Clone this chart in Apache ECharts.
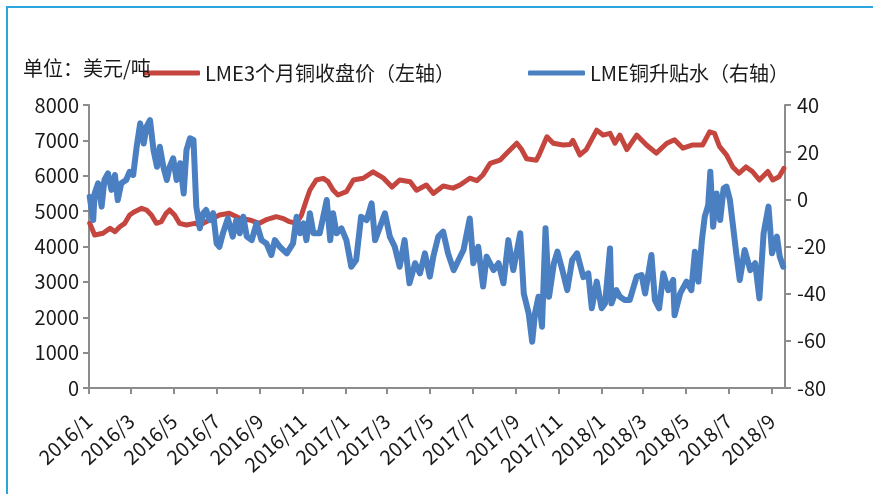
<!DOCTYPE html>
<html>
<head>
<meta charset="utf-8">
<script src="https://cdn.jsdelivr.net/npm/echarts@6/dist/echarts.min.js"></script>
<style>
  html, body { margin: 0; padding: 0; background: #fff; }
  #chart { width: 873px; height: 494px; }
</style>
</head>
<body>
<div id="chart"></div>
<script>
// LME 3个月铜收盘价（美元/吨）
const priceDates = [
  '2016-01-02','2016-01-09','2016-01-21','2016-01-31','2016-02-07','2016-02-14','2016-02-21','2016-02-28',
  '2016-03-06','2016-03-16','2016-03-23','2016-03-30','2016-04-06','2016-04-13','2016-04-20','2016-04-25',
  '2016-05-02','2016-05-09','2016-05-19','2016-05-31','2016-06-07','2016-06-16','2016-07-05','2016-07-19',
  '2016-08-03','2016-08-17','2016-08-31','2016-09-09','2016-09-24','2016-10-03','2016-10-13','2016-10-23',
  '2016-10-30','2016-11-06','2016-11-11','2016-11-20','2016-11-30','2016-12-07','2016-12-14','2016-12-21',
  '2017-01-02','2017-01-12','2017-01-26','2017-02-09','2017-02-24','2017-03-08','2017-03-19','2017-04-03',
  '2017-04-12','2017-04-26','2017-05-06','2017-05-20','2017-06-03','2017-06-13','2017-06-27','2017-07-07',
  '2017-07-16','2017-07-26','2017-08-09','2017-08-19','2017-09-02','2017-09-09','2017-09-16','2017-09-30',
  '2017-10-05','2017-10-15','2017-10-24','2017-11-07','2017-11-17','2017-11-21','2017-12-01','2017-12-10',
  '2017-12-25','2018-01-03','2018-01-13','2018-01-20','2018-01-27','2018-02-06','2018-02-20','2018-03-06',
  '2018-03-20','2018-04-04','2018-04-15','2018-04-27','2018-05-11','2018-05-25','2018-06-04','2018-06-11',
  '2018-06-18','2018-06-28','2018-07-07','2018-07-16','2018-07-26','2018-08-04','2018-08-14','2018-08-26',
  '2018-09-02','2018-09-11','2018-09-18'
];
const priceValues = [
  4655, 4325, 4373, 4514, 4420, 4560, 4655, 4890,
  4985, 5080, 5032, 4890, 4655, 4702, 4938, 5032,
  4890, 4655, 4608, 4655, 4608, 4702, 4890, 4938,
  4797, 4750, 4655, 4750, 4843, 4797, 4702, 4655,
  4890, 5315, 5597, 5880, 5927, 5833, 5597, 5456,
  5550, 5880, 5930, 6110, 5930, 5680, 5880, 5830,
  5590, 5740, 5500, 5710, 5650, 5740, 5930, 5860,
  6030, 6350, 6440, 6640, 6920, 6740, 6480, 6440,
  6640, 7100, 6920, 6870, 6880, 7000, 6590, 6740,
  7290, 7150, 7200, 6920, 7150, 6740, 7150, 6870,
  6640, 6920, 7020, 6780, 6870, 6870, 7240, 7200,
  6830, 6590, 6250, 6070, 6250, 6120, 5880, 6120,
  5880, 5970, 6210
];

// LME铜升贴水（美元/吨）
const spreadDates = [
  '2016-01-02','2016-01-07','2016-01-09','2016-01-14','2016-01-19','2016-01-23','2016-01-28','2016-02-02',
  '2016-02-07','2016-02-11','2016-02-16','2016-02-23','2016-02-28','2016-03-04','2016-03-09','2016-03-14',
  '2016-03-19','2016-03-23','2016-03-28','2016-04-02','2016-04-07','2016-04-11','2016-04-16','2016-04-21',
  '2016-04-25','2016-04-30','2016-05-05','2016-05-10','2016-05-15','2016-05-19','2016-05-24','2016-05-29',
  '2016-06-02','2016-06-07','2016-06-12','2016-06-16','2016-06-21','2016-06-26','2016-07-01','2016-07-05',
  '2016-07-10','2016-07-17','2016-07-24','2016-07-29','2016-08-03','2016-08-08','2016-08-13','2016-08-20',
  '2016-08-27','2016-09-03','2016-09-10','2016-09-17','2016-09-22','2016-09-29','2016-10-09','2016-10-18',
  '2016-10-23','2016-10-28','2016-11-02','2016-11-06','2016-11-11','2016-11-16','2016-11-25','2016-11-30',
  '2016-12-05','2016-12-10','2016-12-14','2016-12-19','2016-12-26','2017-01-02','2017-01-09','2017-01-16',
  '2017-01-23','2017-01-31','2017-02-07','2017-02-12','2017-02-19','2017-02-26','2017-03-05','2017-03-12',
  '2017-03-19','2017-03-26','2017-04-02','2017-04-10','2017-04-17','2017-04-24','2017-05-01','2017-05-06',
  '2017-05-13','2017-05-20','2017-05-27','2017-06-04','2017-06-11','2017-06-18','2017-06-27','2017-07-02',
  '2017-07-09','2017-07-16','2017-07-21','2017-07-31','2017-08-07','2017-08-14','2017-08-21','2017-08-28',
  '2017-09-07','2017-09-12','2017-09-19','2017-09-24','2017-09-28','2017-10-03','2017-10-08','2017-10-13',
  '2017-10-18','2017-10-25','2017-10-30','2017-11-06','2017-11-13','2017-11-20','2017-11-27','2017-12-06',
  '2017-12-13','2017-12-18','2017-12-25','2018-01-01','2018-01-06','2018-01-13','2018-01-15','2018-01-22',
  '2018-01-27','2018-02-03','2018-02-10','2018-02-20','2018-02-27','2018-03-04','2018-03-13','2018-03-18',
  '2018-03-24','2018-03-30','2018-04-06','2018-04-13','2018-04-15','2018-04-23','2018-05-02','2018-05-09',
  '2018-05-14','2018-05-19','2018-05-24','2018-05-28','2018-06-02','2018-06-05','2018-06-09','2018-06-14',
  '2018-06-19','2018-06-24','2018-06-28','2018-07-03','2018-07-12','2018-07-17','2018-07-24','2018-08-01',
  '2018-08-08','2018-08-14','2018-08-20','2018-08-27','2018-09-01','2018-09-08','2018-09-12','2018-09-17'
];
const spreadValues = [
  1.1, -8.8, 2.5, 6.8, -3.1, 8.2, 11.0, 4.0,
  10.3, -0.3, 6.8, 8.2, 11.7, 10.3, 22.3, 32.2,
  23.7, 30.8, 33.6, 20.9, 13.8, 22.3, 13.8, 8.2,
  13.8, 17.4, 8.2, 15.3, 2.5, 20.9, 25.9, 25.2,
  -3.1, -12.3, -5.9, -4.5, -8.8, -5.9, -18.7, -20.1,
  -14.4, -8.1, -15.8, -8.8, -14.4, -7.4, -15.8, -17.3,
  -10.2, -17.3, -18.7, -23.6, -17.3, -20.1, -22.9, -18.7,
  -7.4, -14.4, -10.2, -17.3, -5.9, -14.4, -14.4, -7.4,
  -0.3, -17.3, -5.9, -14.4, -12.3, -17.3, -28.6, -25.7,
  -7.4, -8.8, -1.7, -17.3, -11.6, -5.9, -15.8, -20.1,
  -28.6, -17.3, -35.6, -27.1, -31.4, -22.9, -32.8, -24.3,
  -15.8, -13.7, -22.9, -30.0, -25.7, -21.5, -8.1, -27.1,
  -20.1, -37.0, -24.3, -30.0, -27.1, -35.6, -17.3, -30.0,
  -14.4, -39.9, -48.4, -60.4, -48.4, -41.3, -54.0, -12.3,
  -41.3, -27.1, -22.2, -30.0, -38.5, -25.7, -22.9, -33.0,
  -31.4, -46.2, -34.9, -46.2, -44.1, -20.8, -44.1, -38.5,
  -41.3, -42.7, -42.7, -32.8, -32.1, -39.9, -23.6, -42.7,
  -46.2, -31.4, -38.5, -34.2, -49.1, -39.9, -34.9, -38.5,
  -22.2, -34.9, -17.3, -7.4, -2.4, 11.7, -11.6, 2.5,
  -8.8, 4.7, 5.4, -0.3, -22.9, -34.2, -21.5, -30.0,
  -27.1, -42.0, -14.4, -3.1, -22.9, -15.8, -24.3, -28.6
];

const tickLabels = ['2016/1','2016/3','2016/5','2016/7','2016/9','2016/11','2017/1','2017/3','2017/5',
  '2017/7','2017/9','2017/11','2018/1','2018/3','2018/5','2018/7','2018/9'];

const seriesNames = ['LME3个月铜收盘价（左轴）', 'LME铜升贴水（右轴）'];
const FONT = '"Noto Sans CJK SC", "Noto Sans", sans-serif';

// the x axis is a value axis in UTC milliseconds, ticks placed on the 1st of every other month
const tickTimes = tickLabels.map(s => {
  const [y, m] = s.split('/').map(Number);
  return Date.UTC(y, m - 1, 1);
});
const pricePairs = priceDates.map((d, i) => [Date.parse(d), priceValues[i]]);
const spreadPairs = spreadDates.map((d, i) => [Date.parse(d), spreadValues[i]]);

const axisGray = '#8c8c8c';

const chart = echarts.init(document.getElementById('chart'));
chart.setOption({
  animation: false,
  graphic: [{
    type: 'polyline',
    shape: { points: [[7, 494], [7, 7], [873, 7]] },
    style: { stroke: '#2aa6de', lineWidth: 2, fill: null }
  }],
  title: {
    text: '单位：美元/吨',
    left: 18,
    top: 53,
    textStyle: { fontFamily: FONT, fontSize: 20, fontWeight: 'normal', color: '#1a1a1a' }
  },
  legend: [{
    data: [seriesNames[0]],
    left: 138,
    top: 58,
    icon: 'roundRect',
    itemWidth: 57,
    itemHeight: 5,
    textStyle: { fontFamily: FONT, fontSize: 20, color: '#1a1a1a' }
  }, {
    data: [seriesNames[1]],
    left: 523,
    top: 58,
    icon: 'roundRect',
    itemWidth: 57,
    itemHeight: 5,
    textStyle: { fontFamily: FONT, fontSize: 20, color: '#1a1a1a' }
  }],
  grid: { left: 89, right: 88, top: 105, bottom: 106 },
  xAxis: {
    type: 'value',
    min: Date.UTC(2016, 0, 1),
    max: Date.UTC(2018, 8, 19, 12),
    axisLine: { lineStyle: { color: axisGray, width: 2 } },
    axisTick: { show: true, length: 6, customValues: tickTimes, lineStyle: { color: axisGray, width: 2 } },
    axisLabel: {
      customValues: tickTimes,
      rotate: 42,
      margin: 30,
      fontFamily: FONT,
      fontSize: 20,
      color: '#1a1a1a',
      formatter: v => {
        const d = new Date(v);
        return d.getUTCFullYear() + '/' + (d.getUTCMonth() + 1);
      }
    },
    splitLine: { show: false }
  },
  yAxis: [{
    type: 'value',
    min: 0,
    max: 8000,
    interval: 1000,
    axisLine: { show: true, lineStyle: { color: axisGray, width: 2 } },
    axisTick: { show: true, length: 6, lineStyle: { color: axisGray, width: 2 } },
    axisLabel: { fontFamily: FONT, fontSize: 20, color: '#1a1a1a', margin: 10, formatter: v => String(v) },
    splitLine: { show: false }
  }, {
    type: 'value',
    min: -80,
    max: 40,
    interval: 20,
    axisLine: { show: true, lineStyle: { color: axisGray, width: 2 } },
    axisTick: { show: true, length: 6, lineStyle: { color: axisGray, width: 2 } },
    axisLabel: { fontFamily: FONT, fontSize: 20, color: '#1a1a1a', margin: 12, formatter: v => String(v) },
    splitLine: { show: false }
  }],
  series: [{
    name: seriesNames[0],
    type: 'line',
    yAxisIndex: 0,
    data: pricePairs,
    showSymbol: false,
    color: '#c4463f',
    lineStyle: { width: 5, cap: 'round', join: 'round' },
    z: 2
  }, {
    name: seriesNames[1],
    type: 'line',
    yAxisIndex: 1,
    data: spreadPairs,
    showSymbol: false,
    color: '#4a7fc1',
    lineStyle: { width: 6, cap: 'round', join: 'round' },
    z: 3
  }]
});
</script>
</body>
</html>
